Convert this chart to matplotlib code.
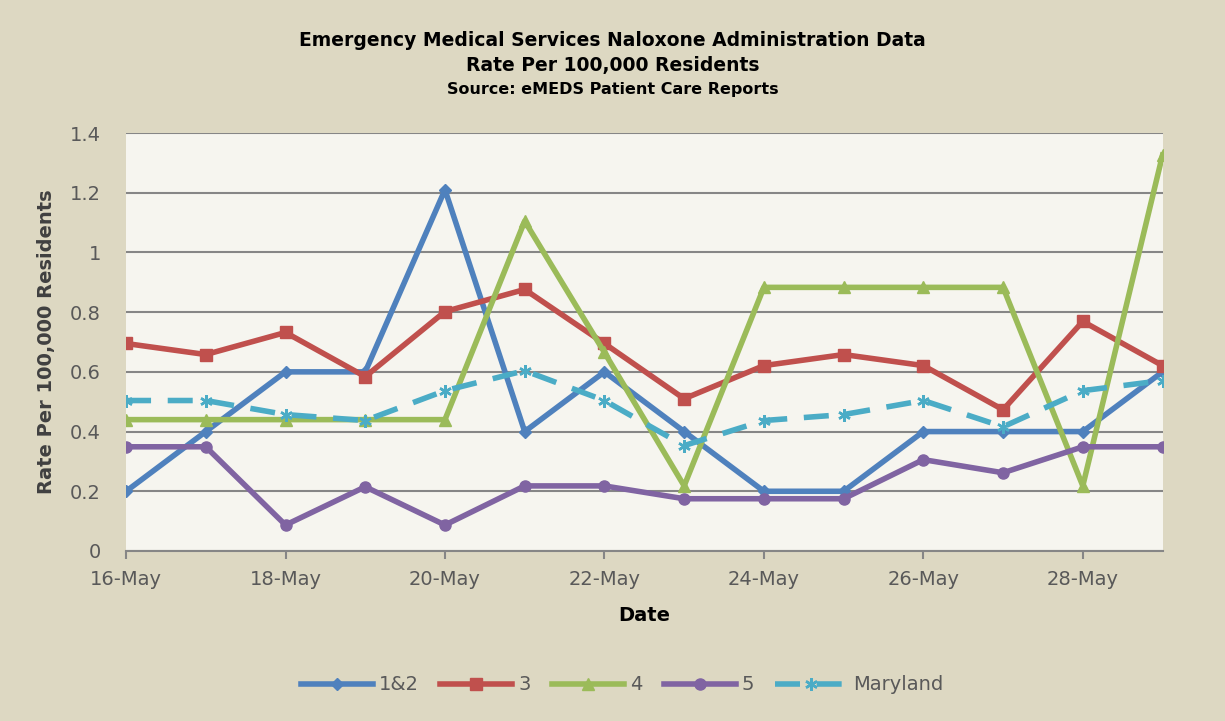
import numpy as np
import matplotlib
matplotlib.use("Agg")
import matplotlib.pyplot as plt

# Datos
dates = ['16-May', '17-May', '18-May', '19-May', '20-May', '21-May', '22-May',
         '23-May', '24-May', '25-May', '26-May', '27-May', '28-May', '29-May']
s_12 = [0.20, 0.40, 0.60, 0.60, 1.21, 0.40, 0.60, 0.40, 0.20, 0.20, 0.40, 0.40, 0.40, 0.60]
s_3 = [0.695, 0.658, 0.732, 0.584, 0.802, 0.876, 0.695, 0.51, 0.621, 0.658, 0.621, 0.473, 0.769, 0.621]
s_4 = [0.44, 0.44, 0.44, 0.44, 0.44, 1.105, 0.665, 0.218, 0.883, 0.883, 0.883, 0.883, 0.218, 1.326]
s_5 = [0.349, 0.349, 0.087, 0.215, 0.087, 0.218, 0.218, 0.175, 0.175, 0.175, 0.306, 0.262, 0.349, 0.349]
s_md = [0.504, 0.504, 0.457, 0.437, 0.537, 0.604, 0.504, 0.353, 0.437, 0.457, 0.504, 0.416, 0.537, 0.571]

bg = '#DDD8C2'
x = np.arange(len(dates))

fig = plt.figure(figsize=(12.25, 7.21), dpi=100, facecolor=bg)
ax = fig.add_axes([0.1029, 0.2358, 0.8461, 0.5797])
ax.set_facecolor('#F6F5EF')

lw = 4
ax.plot(x, s_12, color='#4F81BD', lw=lw, marker='D', ms=6, label='1&2', zorder=3)
ax.plot(x, s_3, color='#C0504D', lw=lw, marker='s', ms=8, label='3', zorder=3)
ax.plot(x, s_4, color='#9BBB59', lw=lw, marker='^', ms=8, label='4', zorder=3)
ax.plot(x, s_5, color='#8064A2', lw=lw, marker='o', ms=8, label='5', zorder=3)
ax.plot(x, s_md, color='#4BACC6', lw=lw, marker=(6, 2, 0), ms=9, mew=1.8,
        ls=(0, (4.5, 3)), label='Maryland', zorder=3)

ax.set_xlim(0, len(dates) - 1)
ax.set_ylim(0, 1.4)
ax.set_yticks([0, 0.2, 0.4, 0.6, 0.8, 1.0, 1.2, 1.4])
ax.set_yticklabels(['0', '0.2', '0.4', '0.6', '0.8', '1', '1.2', '1.4'])
ax.set_xticks(x[::2])
ax.set_xticklabels(dates[::2])
ax.grid(axis='y', color='#868686', lw=1.5, zorder=1)
ax.set_axisbelow(True)

for side in ['top', 'right']:
    ax.spines[side].set_visible(False)
ax.spines['left'].set_visible(False)
ax.spines['bottom'].set_color('#868686')
ax.spines['bottom'].set_linewidth(1.5)
ax.tick_params(axis='x', colors='#868686', length=6, width=1.5, labelcolor='#595959',
               labelsize=14, pad=8)
ax.tick_params(axis='y', length=0, labelcolor='#595959', labelsize=14, pad=18)

ax.set_xlabel('Date', fontsize=14, fontweight='bold', labelpad=12)
ax.set_ylabel('Rate Per 100,000 Residents', fontsize=14, fontweight='bold',
              color='#404040', labelpad=10)

fig.text(0.5, 0.944, 'Emergency Medical Services Naloxone Administration Data',
         ha='center', va='center', fontsize=13.5, fontweight='bold')
fig.text(0.5, 0.909, 'Rate Per 100,000 Residents', ha='center', va='center',
         fontsize=13.5, fontweight='bold')
fig.text(0.5, 0.876, 'Source: eMEDS Patient Care Reports', ha='center', va='center',
         fontsize=11.5, fontweight='bold')

leg = fig.legend(loc='center', bbox_to_anchor=(0.508, 0.05), ncol=5, frameon=False,
                 fontsize=14, handlelength=3.7, columnspacing=1.1, handletextpad=0.3)
for t in leg.get_texts():
    t.set_color('#595959')

fig.savefig('out.png', dpi=100, facecolor=bg)
